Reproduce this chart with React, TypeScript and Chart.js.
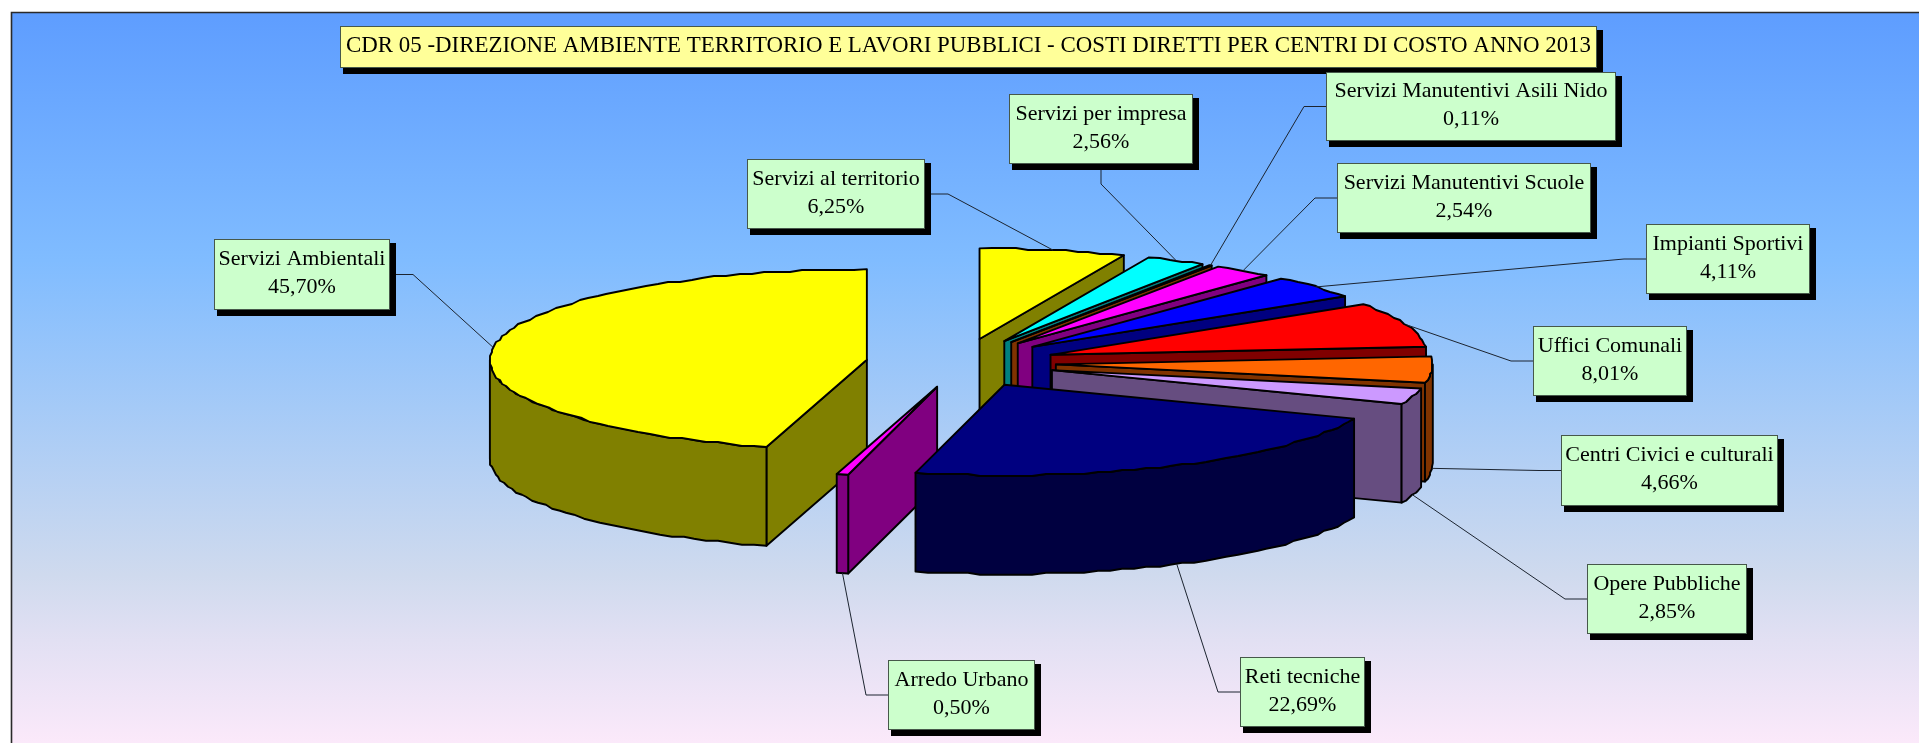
import React, { useEffect, useRef } from "react";
import { Chart, registerables } from "chart.js";

Chart.register(...registerables);

const TITLE = "CDR 05 -DIREZIONE AMBIENTE TERRITORIO E LAVORI PUBBLICI - COSTI DIRETTI PER CENTRI DI COSTO ANNO 2013";

const categories = [
  "Servizi al territorio",
  "Servizi per impresa",
  "Servizi Manutentivi Asili Nido",
  "Servizi Manutentivi Scuole",
  "Impianti Sportivi",
  "Uffici Comunali",
  "Centri Civici e culturali",
  "Opere Pubbliche",
  "Reti tecniche",
  "Arredo Urbano",
  "Servizi Ambientali",
];
const shares = [6.25, 2.56, 0.11, 2.54, 4.11, 8.01, 4.66, 2.85, 22.69, 0.5, 45.7];
const sliceColors = ["#FFFF00", "#00FFFF", "#FF6600", "#FF00FF", "#0000FF", "#FF0000", "#FF6600", "#CC99FF", "#000080", "#FF00FF", "#FFFF00"];

// back-to-front painting order of the slices
const paintOrder = [10, 0, 1, 2, 3, 4, 5, 6, 7, 9, 8];

// label boxes: left, top, right, bottom, side the leader leaves from
const labelBoxes: [number, number, number, number, string][] = [
  [747, 159, 925, 229, "r"],
  [1009, 94, 1193, 164, "b"],
  [1326, 72, 1616, 141, "l"],
  [1337, 163, 1591, 233, "l"],
  [1646, 224, 1810, 294, "l"],
  [1533, 326, 1687, 396, "l"],
  [1561, 435, 1778, 506, "l"],
  [1587, 564, 1747, 634, "l"],
  [1240, 657, 1365, 727, "l"],
  [888, 660, 1035, 730, "l"],
  [214, 239, 390, 310, "r"],
];
const titleBox = [340, 26, 1597, 68];

// projection of the pie disc, as fractions of the chart's radius
const RX = 1.0385, RY = 0.2495, DEPTH = 0.272, EXPLODE_X = 0.2617, EXPLODE_Y = 0.0675;

const half = (hex: string) => {
  const n = parseInt(hex.slice(1), 16);
  const c = [(n >> 16) & 255, (n >> 8) & 255, n & 255].map((v) => Math.round(v / 2));
  return `rgb(${c[0]},${c[1]},${c[2]})`;
};

const sliceGeometry = (arc: any) => {
  const R = arc.outerRadius;
  const mid = (arc.startAngle + arc.endAngle) / 2;
  const ax = arc.x + Math.cos(mid) * R * EXPLODE_X;
  const ay = arc.y + Math.sin(mid) * R * EXPLODE_Y;
  const rx = R * RX;
  const ry = R * RY;
  const depth = R * DEPTH;
  const rim = (a: number): [number, number] => [ax + Math.cos(a) * rx, ay + Math.sin(a) * ry];
  return { ax, ay, rim, depth, mid, s: arc.startAngle, e: arc.endAngle };
};

const GRID = 2;
const rimPoints = (g: any, a0: number, a1: number) => {
  const n = Math.max(1, Math.ceil((a1 - a0) / (Math.PI / 90)));
  const pts: [number, number][] = [];
  for (let k = 0; k <= n; k++) {
    const [x, y] = g.rim(a0 + ((a1 - a0) * k) / n);
    pts.push(k === 0 || k === n ? [x, y] : [Math.round(x / GRID) * GRID, Math.round(y / GRID) * GRID]);
  }
  return pts;
};

const fillPoly = (ctx: CanvasRenderingContext2D, pts: number[][], fill: string) => {
  ctx.beginPath();
  pts.forEach(([x, y], k) => (k ? ctx.lineTo(x, y) : ctx.moveTo(x, y)));
  ctx.closePath();
  ctx.fillStyle = fill;
  ctx.fill();
  ctx.stroke();
};

const pie3d = {
  id: "pie3d",
  beforeDraw(chart: any) {
    const ctx: CanvasRenderingContext2D = chart.ctx;
    const { width, height } = chart;
    ctx.save();
    ctx.fillStyle = "#FFFFFF";
    ctx.fillRect(0, 0, width, height);
    const g = ctx.createLinearGradient(0, 12, 0, height);
    g.addColorStop(0, "#5E9DFF");
    g.addColorStop(0.34, "#80BCFF");
    g.addColorStop(0.77, "#CFDAEE");
    g.addColorStop(0.86, "#E2E0F3");
    g.addColorStop(1, "#FBE9FA");
    ctx.fillStyle = g;
    ctx.fillRect(11, 12, width, height);
    ctx.strokeStyle = "#2A2A2A";
    ctx.lineWidth = 1.6;
    ctx.beginPath();
    ctx.moveTo(11.5, height);
    ctx.lineTo(11.5, 12.5);
    ctx.lineTo(width, 12.5);
    ctx.stroke();
    ctx.restore();
  },
  beforeDatasetsDraw(chart: any) {
    const ctx: CanvasRenderingContext2D = chart.ctx;
    const arcs = chart.getDatasetMeta(0).data;
    ctx.save();
    ctx.lineJoin = "round";
    ctx.strokeStyle = "#000000";
    ctx.lineWidth = 1.9;
    paintOrder.forEach((i) => {
      const arc = arcs[i];
      const g = sliceGeometry(arc);
      const top = arc.options.backgroundColor as string;
      const side = half(top);
      const down = (p: number[]) => [p[0], p[1] + g.depth];
      if (Math.cos(g.s) < -1e-6) {
        const p = g.rim(g.s);
        fillPoly(ctx, [[g.ax, g.ay], p, down(p), [g.ax, g.ay + g.depth]], side);
      }
      if (Math.cos(g.e) > 1e-6) {
        const p = g.rim(g.e);
        fillPoly(ctx, [[g.ax, g.ay], p, down(p), [g.ax, g.ay + g.depth]], side);
      }
      const f0 = Math.max(g.s, 0);
      const f1 = Math.min(g.e, Math.PI);
      if (f1 > f0) {
        const pts = rimPoints(g, f0, f1);
        fillPoly(ctx, [...pts, ...pts.slice().reverse().map(down)], side);
      }
      fillPoly(ctx, [[g.ax, g.ay], ...rimPoints(g, g.s, g.e)], top);
    });
    ctx.restore();
    return false;
  },
  afterDraw(chart: any) {
    const ctx: CanvasRenderingContext2D = chart.ctx;
    const arcs = chart.getDatasetMeta(0).data;
    ctx.save();
    // leaders
    ctx.strokeStyle = "#1C2430";
    ctx.lineWidth = 1;
    labelBoxes.forEach(([l, t, r, b, side], i) => {
      const g = sliceGeometry(arcs[i]);
      const [px, py] = g.rim(g.mid);
      const front = Math.sin(g.mid) > 0;
      const ey = front ? py + g.depth : py;
      const my = (t + b) / 2;
      const path =
        side === "l" ? [[l, my], [l - 22, my]] : side === "r" ? [[r, my], [r + 23, my]] : [[(l + r) / 2, b], [(l + r) / 2, b + 20]];
      ctx.beginPath();
      ctx.moveTo(path[0][0], path[0][1]);
      ctx.lineTo(path[1][0], path[1][1]);
      ctx.lineTo(px, ey);
      ctx.stroke();
    });
    const box = (l: number, t: number, r: number, b: number, fill: string) => {
      ctx.fillStyle = "#000000";
      ctx.fillRect(l + 3, t + 4, r - l + 3, b - t + 2);
      ctx.fillStyle = fill;
      ctx.fillRect(l, t, r - l, b - t);
      ctx.strokeStyle = "#46584A";
      ctx.lineWidth = 1;
      ctx.strokeRect(l + 0.5, t + 0.5, r - l - 1, b - t - 1);
    };
    ctx.textAlign = "center";
    ctx.textBaseline = "middle";
    ctx.font = '22.9px "Liberation Serif"';
    box(titleBox[0], titleBox[1], titleBox[2], titleBox[3], "#FFFF99");
    ctx.fillStyle = "#000000";
    ctx.fillText(TITLE, (titleBox[0] + titleBox[2]) / 2, (titleBox[1] + titleBox[3]) / 2 - 1);
    ctx.font = '22px "Liberation Serif"';
    labelBoxes.forEach(([l, t, r, b], i) => {
      box(l, t, r, b, "#CCFFCC");
      ctx.fillStyle = "#000000";
      const cx = (l + r) / 2;
      const cy = (t + b) / 2;
      ctx.fillText(categories[i], cx, cy - 15);
      ctx.fillText(shares[i].toFixed(2).replace(".", ",") + "%", cx, cy + 13);
    });
    ctx.restore();
  },
};

export default function App() {
  const ref = useRef<HTMLCanvasElement>(null);
  useEffect(() => {
    document.body.style.margin = "0";
    document.body.style.overflow = "hidden";
    const chart = new Chart(ref.current as HTMLCanvasElement, {
      type: "pie",
      data: {
        labels: categories,
        datasets: [{ data: shares, backgroundColor: sliceColors, borderWidth: 0 }],
      },
      options: {
        responsive: false,
        animation: false,
        devicePixelRatio: 1,
        layout: { padding: { left: 3, right: 0, bottom: 17 } },
        plugins: { legend: { display: false }, tooltip: { enabled: false } },
      },
      plugins: [pie3d],
    } as any);
    return () => chart.destroy();
  }, []);
  return <canvas ref={ref} width={1919} height={743} style={{ display: "block" }} />;
}
